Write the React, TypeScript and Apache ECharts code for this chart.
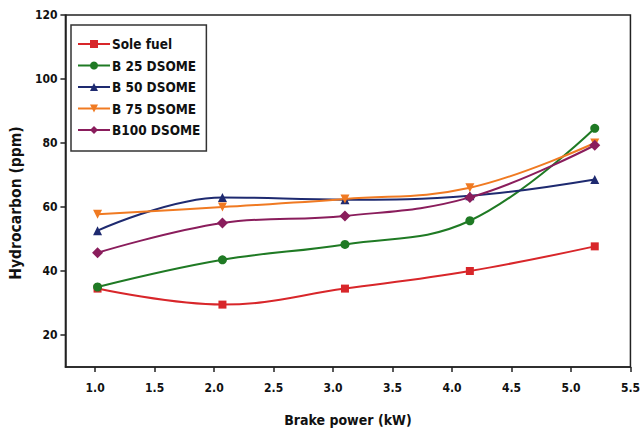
import React, { useEffect, useRef } from "react";
import * as echarts from "echarts";

const xValues = [1.02, 2.07, 3.1, 4.15, 5.2];
const seriesNames = ["Sole fuel", "B 25 DSOME", "B 50 DSOME", "B 75 DSOME", "B100 DSOME"];
const soleFuel = [34.5, 29.5, 34.5, 40, 47.7];
const b25 = [35, 43.5, 48.3, 55.7, 84.6];
const b50 = [52.6, 63, 62.3, 63.5, 68.6];
const b75 = [57.7, 60, 62.5, 66, 80];
const b100 = [45.7, 55, 57.2, 63, 79.3];
const xTicks = [1, 1.5, 2, 2.5, 3, 3.5, 4, 4.5, 5, 5.5];
const yTicks = [20, 40, 60, 80, 100, 120];

const colors = ["#d8262a", "#1f7a24", "#1e2a70", "#f07a22", "#8a1d5c"];
const symbols = ["rect", "circle", "triangle", "path://M0,0 L10,0 L5,9 Z", "diamond"];
const FONT = '"Liberation Sans Narrow", "Arial Narrow", "DejaVu Sans Condensed", sans-serif';

export default function App() {
  const ref = useRef<HTMLDivElement>(null);
  useEffect(() => {
    if (!ref.current) return;
    const chart = echarts.init(ref.current, undefined, { renderer: "svg" });
    const all = [soleFuel, b25, b50, b75, b100];
    chart.setOption({
      animation: false,
      backgroundColor: "#ffffff",
      grid: {
        left: 62,
        top: 15,
        width: 571,
        height: 352,
        show: true,
        borderColor: "#222",
        borderWidth: 1.5,
        backgroundColor: "transparent",
      },
      legend: {
        orient: "vertical",
        left: 71,
        top: 25,
        itemWidth: 32,
        itemHeight: 10,
        itemGap: 7.5,
        padding: [12, 6, 14, 6],
        borderColor: "#333",
        borderWidth: 1.5,
        backgroundColor: "#fff",
        textStyle: { fontFamily: FONT, fontWeight: "bold", fontSize: 13.5, color: "#111", padding: [0, 0, 0, -3] },
        data: seriesNames,
      },
      xAxis: {
        type: "value",
        min: 0.75,
        max: 5.5,
        name: "Brake power (kW)",
        nameLocation: "middle",
        nameGap: 46,
        nameTextStyle: { fontFamily: FONT, fontWeight: "bold", fontSize: 14, color: "#111" },
        axisLine: { show: true, onZero: false, lineStyle: { color: "#222", width: 1.5 } },
        axisTick: { show: true, inside: false, length: 5, customValues: xTicks, lineStyle: { color: "#222", width: 1.5 } },
        axisLabel: {
          customValues: xTicks,
          formatter: (v: number) => v.toFixed(1),
          fontFamily: FONT,
          fontWeight: "bold",
          fontSize: 12,
          color: "#111",
          margin: 15,
        },
        splitLine: { show: false },
      },
      yAxis: {
        type: "value",
        min: 10,
        max: 120,
        name: "Hydrocarbon (ppm)",
        nameLocation: "middle",
        nameGap: 40,
        nameTextStyle: { fontFamily: FONT, fontWeight: "bold", fontSize: 15.5, color: "#111", padding: [0, 0, 0, -24] },
        axisLine: { show: true, onZero: false, lineStyle: { color: "#222", width: 1.5 } },
        axisTick: { show: true, inside: false, length: 5, customValues: yTicks, lineStyle: { color: "#222", width: 1.5 } },
        axisLabel: {
          customValues: yTicks,
          fontFamily: FONT,
          fontWeight: "bold",
          fontSize: 12,
          color: "#111",
          margin: 8,
        },
        splitLine: { show: false },
      },
      series: seriesNames.map((name, i) => ({
        name,
        type: "line",
        smooth: 0.4,
        data: xValues.map((x, j) => [x, all[i][j]]),
        symbol: symbols[i],
        symbolSize: i === 0 ? 8 : i === 4 ? 11 : 9,
        itemStyle: { color: colors[i] },
        lineStyle: { color: colors[i], width: 2 },
      })),
    });
    return () => chart.dispose();
  }, []);
  return <div ref={ref} style={{ position: "fixed", left: 0, top: 0, width: 643, height: 436 }} />;
}
